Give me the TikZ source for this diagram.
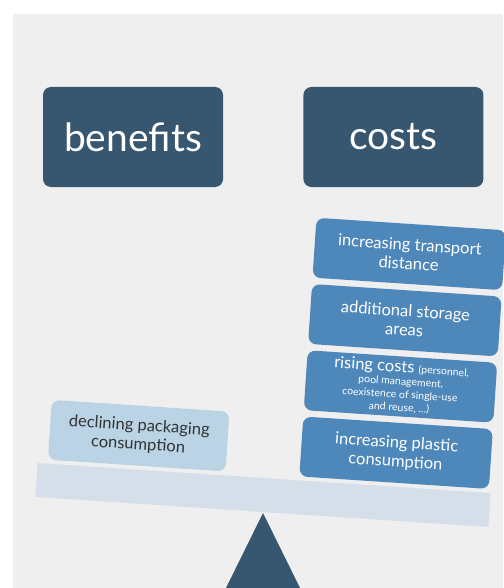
\documentclass[tikz,border=0pt]{standalone}
\usepackage{fontspec}
\setmainfont{Lato}
\usepackage{xcolor}
\usetikzlibrary{positioning}

\definecolor{slate}{HTML}{37566F}
\definecolor{costblue}{HTML}{4E87BA}
\definecolor{gainblue}{HTML}{BAD4E6}
\definecolor{beamgray}{HTML}{D5DFE9}
\definecolor{panel}{HTML}{EFEFEF}
\definecolor{darktext}{HTML}{333333}
\newcommand{\finep}{\fontsize{10.5}{13}\selectfont}

\begin{document}
\begin{tikzpicture}[x=1pt, y=-1pt,
    header/.style={fill=slate, rounded corners=8pt, text=white, minimum width=180pt, minimum height=100pt, font=\fontsize{39}{40}\selectfont},
    costbox/.style={fill=costblue, rounded corners=8pt, text=white, minimum width=190pt, minimum height=60pt, inner sep=2pt, align=center, font=\fontsize{16.5}{19}\selectfont, transform shape},
    gainbox/.style={costbox, fill=gainblue, text=darktext, minimum width=178pt}]
    % Page size: white sheet with the grey panel on it
    \useasboundingbox (0,0) rectangle (503,588);
    \fill[white] (0,0) rectangle (503,588);
    \fill[panel] (13,14) rectangle (503,588);

    % The two headings
    \node[header] (benefits) at (133,137) {benefits};
    \node[header, right=80pt of benefits] (costs) {costs};

    % Pivot of the scale
    \fill[slate] (263,513) -- (301,590) -- (225,590) -- cycle;

    % Beam tipped down on the costs side, with the weights on it
    \begin{scope}[rotate around={-3.8:(263,495)}]
        \node[fill=beamgray, minimum width=454pt, minimum height=34pt, inner sep=0pt, transform shape] (beam) at (263,495) {};
        \node[gainbox] (decline) at (135,444) {declining packaging\\consumption};
        \node[costbox] (plastic) at (393,444) {increasing plastic\\consumption};
        \node[costbox, above=6pt of plastic, font=\fontsize{16.5}{13}\selectfont] (rising) {rising costs {\finep(personnel,}\\{\finep pool management,}\\{\finep coexistence of single-use}\\{\finep and reuse, \ldots)}};
        \node[costbox, above=6pt of rising] (storage) {additional storage\\areas};
        \node[costbox, above=6pt of storage] (transport) {increasing transport\\distance};
    \end{scope}
\end{tikzpicture}
\end{document}
